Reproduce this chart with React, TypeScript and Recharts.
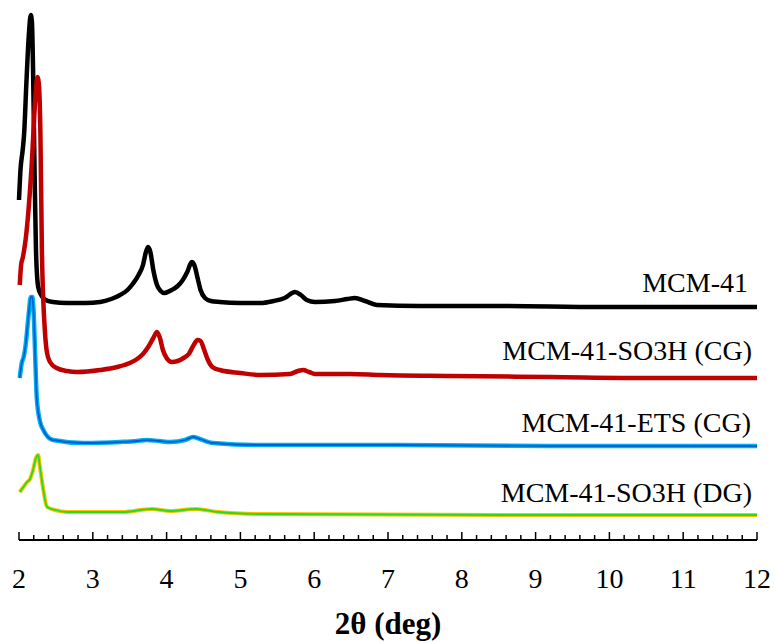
import React from "react";
import { LineChart, Line, XAxis, YAxis, Customized } from "recharts";

// 2θ (deg) / intensity (a.u., curves already stacked with offsets)
const mcm41 = [
  [2.0, 340], [2.02, 370], [2.05, 390], [2.07, 407], [2.1, 457], [2.135, 507],
  [2.16, 525], [2.175, 518], [2.19, 473], [2.21, 373], [2.23, 290], [2.26, 253],
  [2.3, 245], [2.36, 240], [2.46, 238], [2.65, 237], [2.9, 237], [3.1, 238],
  [3.25, 241], [3.37, 245], [3.47, 250], [3.54, 256], [3.62, 265], [3.68, 275],
  [3.72, 288], [3.75, 293], [3.78, 288], [3.82, 270], [3.87, 255], [3.92, 249],
  [3.97, 247], [4.07, 250], [4.15, 254], [4.21, 259], [4.28, 268], [4.34, 278],
  [4.38, 274], [4.42, 262], [4.46, 250], [4.52, 242], [4.6, 239], [4.72, 238],
  [5.0, 237], [5.27, 237], [5.45, 239], [5.6, 242], [5.74, 248], [5.82, 245],
  [5.9, 240], [6.01, 238], [6.28, 239], [6.45, 241], [6.55, 242], [6.69, 239],
  [6.85, 235], [7.43, 234], [8.52, 234], [9.87, 233], [11.23, 233], [12, 233],
];

const mcm41So3hCg = [
  [2.01, 255], [2.03, 276], [2.05, 282], [2.1, 307], [2.17, 373], [2.22, 440],
  [2.25, 463], [2.27, 455], [2.29, 407], [2.31, 290], [2.35, 210], [2.38, 187],
  [2.42, 178], [2.51, 172], [2.65, 169], [2.79, 168], [3.1, 170], [3.33, 173],
  [3.5, 177], [3.6, 181], [3.68, 186], [3.75, 193], [3.82, 202], [3.87, 208],
  [3.91, 202], [3.95, 190], [4.0, 182], [4.07, 178], [4.15, 179], [4.23, 182],
  [4.3, 186], [4.36, 194], [4.42, 200], [4.46, 199], [4.51, 190], [4.56, 180],
  [4.62, 173], [4.72, 170], [5.0, 167], [5.27, 165], [5.67, 166], [5.78, 169],
  [5.85, 170], [5.93, 168], [6.01, 166], [6.49, 166], [6.89, 165], [7.84, 164],
  [9.2, 163], [10.55, 162], [12, 162],
];

const mcm41EtsCg = [
  [2.01, 162], [2.04, 178], [2.06, 182], [2.09, 195], [2.13, 225], [2.16, 243],
  [2.18, 243], [2.2, 225], [2.22, 183], [2.24, 143], [2.28, 120], [2.33, 110],
  [2.46, 100], [2.87, 97], [3.37, 98], [3.6, 99], [3.73, 100], [3.9, 99],
  [4.05, 98], [4.25, 100], [4.36, 103], [4.45, 101], [4.63, 97], [5.27, 95],
  [7.16, 95], [9.2, 94], [12, 94],
];

const mcm41So3hDg = [
  [2.01, 48], [2.05, 52], [2.11, 58], [2.15, 61], [2.19, 70], [2.23, 82],
  [2.26, 85], [2.28, 75], [2.33, 50], [2.38, 33], [2.49, 30], [2.65, 28],
  [3.4, 28], [3.8, 31], [4.05, 29], [4.4, 31], [4.7, 28], [5.27, 26],
  [8.52, 25], [12, 25],
];

const majorTicks = [2, 3, 4, 5, 6, 7, 8, 9, 10, 11, 12];
const allTicks = Array.from({ length: 51 }, (_, i) => Math.round((2 + i * 0.2) * 10) / 10);

const labels = [
  { text: "MCM-41", x: 748, y: 292 },
  { text: "MCM-41-SO3H (CG)", x: 752, y: 360 },
  { text: "MCM-41-ETS (CG)", x: 751, y: 432 },
  { text: "MCM-41-SO3H (DG)", x: 752, y: 502 },
];

const toPts = (arr: number[][]) => arr.map(([x, y]) => ({ x, y }));
const FONT = "Liberation Serif, Times New Roman, serif";

const Tick = (props: any) => {
  const { x, y, payload } = props;
  const v = payload.value;
  const major = majorTicks.includes(v);
  return (
    <g>
      <line x1={x} x2={x} y1={y} y2={major ? y - 8 : y - 5} stroke="#000" strokeWidth={1.5} />
      {major && (
        <text x={x} y={y + 48} textAnchor="middle" style={{ fontSize: 28, fontFamily: FONT }} fill="#000">
          {v}
        </text>
      )}
    </g>
  );
};

export default function App() {
  return (
    <div style={{ position: "absolute", left: 0, top: 0, background: "#fff" }}>
      <LineChart width={775} height={643} margin={{ top: 0, right: 18, bottom: 0, left: 19 }}>
        <XAxis
          dataKey="x"
          type="number"
          domain={[2, 12]}
          ticks={allTicks}
          interval={0}
          tick={<Tick />}
          tickLine={false}
          tickSize={0}
          tickMargin={0}
          height={103}
          axisLine={{ stroke: "#000", strokeWidth: 2 }}
          allowDuplicatedCategory={false}
        />
        <YAxis hide domain={[0, 540]} />
        <Line data={toPts(mcm41)} dataKey="y" type="monotone" stroke="#000" strokeWidth={4.5} dot={false} isAnimationActive={false} />
        <Line data={toPts(mcm41So3hCg)} dataKey="y" type="monotone" stroke="#C00000" strokeWidth={4.5} dot={false} isAnimationActive={false} />
        <Line data={toPts(mcm41EtsCg)} dataKey="y" type="monotone" stroke="#00B0F0" strokeWidth={4.5} dot={false} isAnimationActive={false} />
        <Line data={toPts(mcm41EtsCg)} dataKey="y" type="monotone" stroke="#0060D0" strokeWidth={1.8} dot={false} isAnimationActive={false} />
        <Line data={toPts(mcm41So3hDg)} dataKey="y" type="monotone" stroke="#FFC000" strokeWidth={4} dot={false} isAnimationActive={false} />
        <Line data={toPts(mcm41So3hDg)} dataKey="y" type="monotone" stroke="#22DD22" strokeWidth={1.8} dot={false} isAnimationActive={false} />
        <Customized
          component={() => (
            <g fill="#000">
              {labels.map((l) => (
                <text key={l.text} x={l.x} y={l.y} textAnchor="end" style={{ fontSize: 28, fontFamily: FONT }}>
                  {l.text}
                </text>
              ))}
              <text x={388} y={634} textAnchor="middle" style={{ fontSize: 31, fontFamily: FONT, fontWeight: "bold" }}>
                2θ (deg)
              </text>
            </g>
          )}
        />
      </LineChart>
    </div>
  );
}
